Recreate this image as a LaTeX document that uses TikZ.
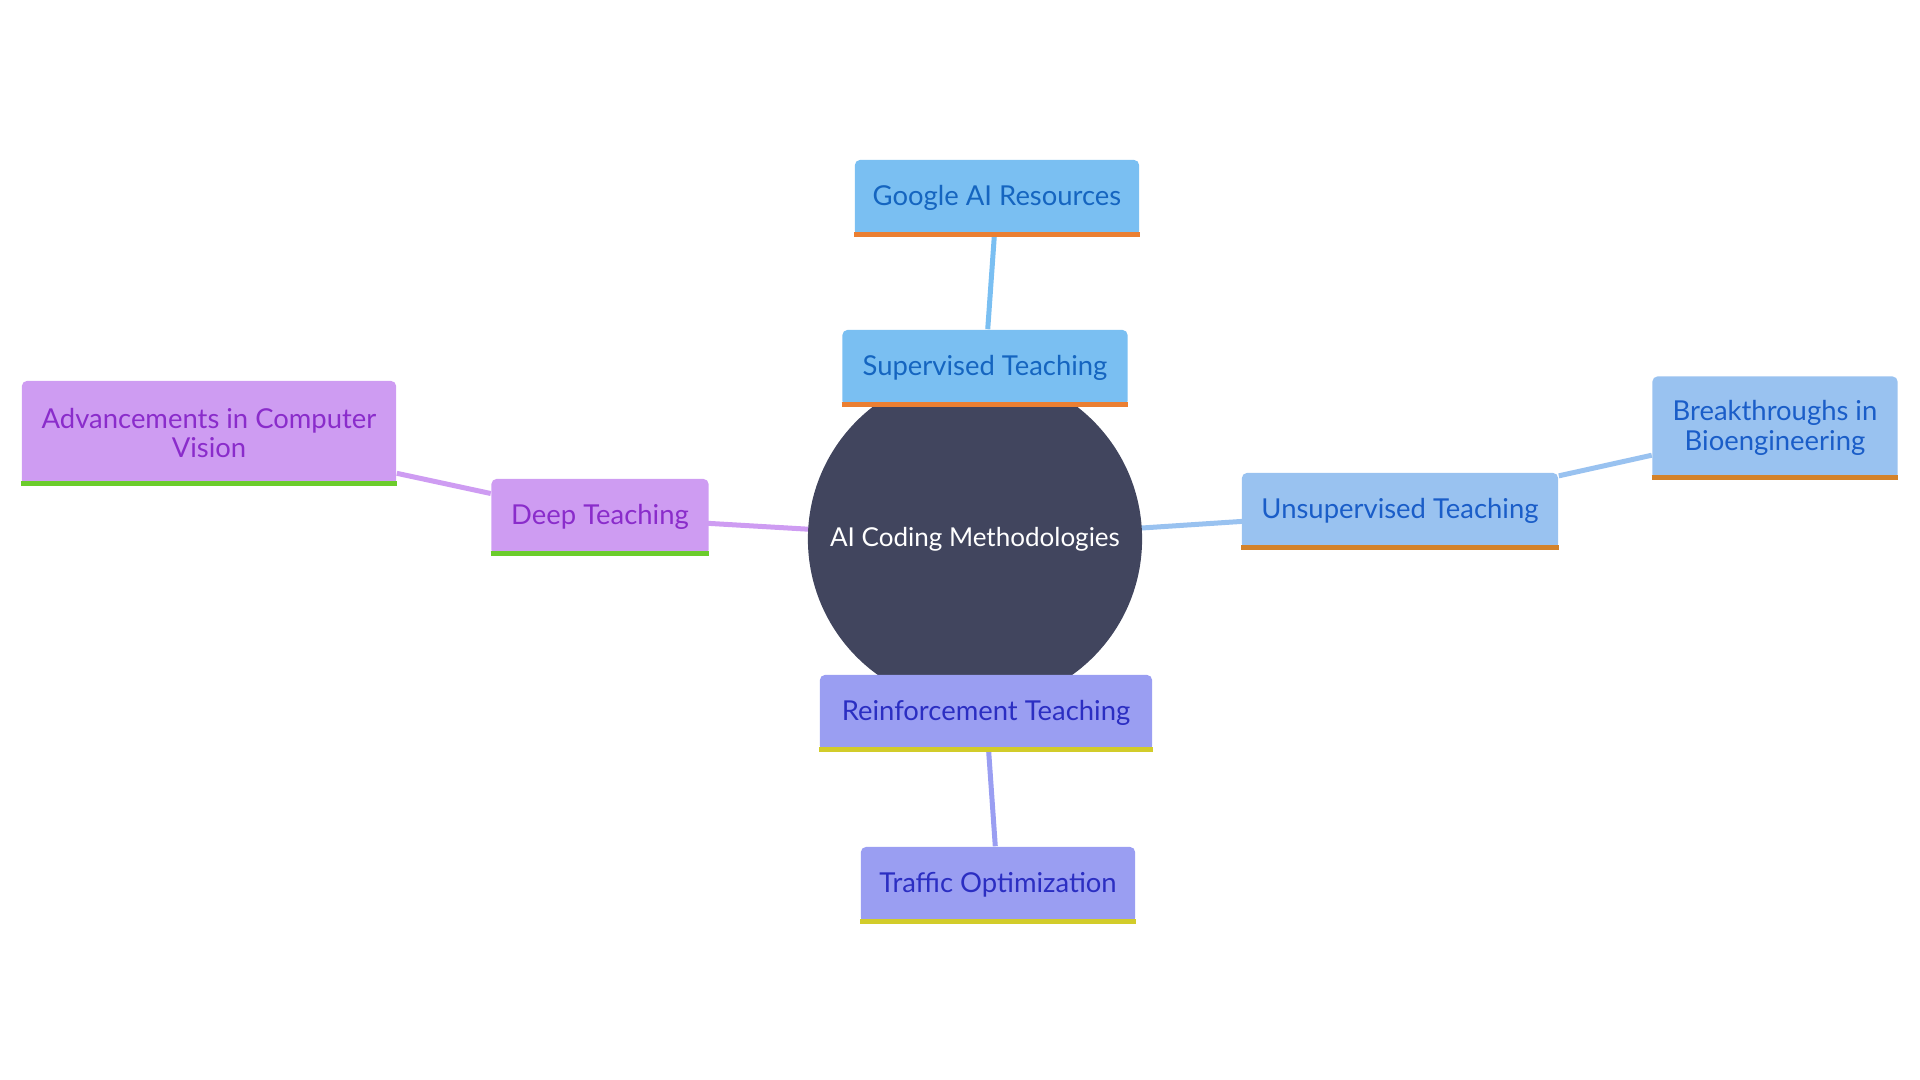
\documentclass[tikz,border=0pt]{standalone}
\usepackage{fontspec}
\setmainfont{Lato}
\usepackage{xcolor}
\usetikzlibrary{positioning,calc,backgrounds}
\definecolor{rootcol}{HTML}{41455E}
\definecolor{supcol}{HTML}{7ABFF2}
\definecolor{supcoldark}{HTML}{1565C0}
\definecolor{supcolline}{HTML}{EB7F32}
\definecolor{unscol}{HTML}{99C2F0}
\definecolor{unscoldark}{HTML}{1A5DC8}
\definecolor{unscolline}{HTML}{D4822A}
\definecolor{deepcol}{HTML}{CE9CF2}
\definecolor{deepcoldark}{HTML}{8A2CCB}
\definecolor{deepcolline}{HTML}{6CCC2C}
\definecolor{reincol}{HTML}{9A9EF2}
\definecolor{reincoldark}{HTML}{2B2EC2}
\definecolor{reincolline}{HTML}{D2CC2A}

\begin{document}
\begin{tikzpicture}[
  x=0.01cm, y=-0.01cm,
  font=\fontsize{7.8}{8.3}\selectfont,
  root/.style={
    circle, fill=rootcol, text=white, minimum size=3.34cm, inner sep=0pt,
    font=\fontsize{7.4}{8.4}\selectfont,
  },
  leaf/.style={
    rounded corners=0.05cm, minimum height=0.76cm, inner sep=0pt, align=center,
  },
  sup/.style={leaf, fill=supcol, text=supcoldark},
  uns/.style={leaf, fill=unscol, text=unscoldark},
  deep/.style={leaf, fill=deepcol, text=deepcoldark},
  rein/.style={leaf, fill=reincol, text=reincoldark},
  branch/.style={line width=0.05cm},
  stripe/.style={line width=0.05cm}
]
\useasboundingbox (0,0) rectangle (1920,1080);

% Centre
\node[root] (root) at (975,539) {AI Coding Methodologies};

% Supervised branch (top)
\node[sup, minimum width=2.85cm] (supervised) at (985,368) {Supervised Teaching};
\node[sup, minimum width=2.84cm] (google) at (997,198) {Google AI Resources};

% Unsupervised branch (right)
\node[uns, minimum width=3.16cm] (unsupervised) at (1400,511) {Unsupervised Teaching};
\node[uns, minimum width=2.45cm, minimum height=1.03cm] (bioeng) at (1775,428) {Breakthroughs in\\Bioengineering};

% Deep branch (left)
\node[deep, minimum width=2.17cm] (deep) at (600,517) {Deep Teaching};
\node[deep, minimum width=3.74cm, minimum height=1.04cm] (vision) at (209,433) {Advancements in Computer\\Vision};

% Reinforcement branch (bottom)
\node[rein, minimum width=3.32cm] (reinforce) at (986,713) {Reinforcement Teaching};
\node[rein, minimum width=2.74cm] (traffic) at (998,885) {Traffic Optimization};

% Bottom stripes
\foreach \n/\c in {supervised/supcolline, google/supcolline,
                   unsupervised/unscolline, bioeng/unscolline,
                   deep/deepcolline, vision/deepcolline,
                   reinforce/reincolline, traffic/reincolline}
  \draw[stripe, draw=\c] ($(\n.south west)+(0,-2.5)$) -- ($(\n.south east)+(0,-2.5)$);

% Branches behind the nodes
\begin{scope}[on background layer]
\draw[branch, supcol] (root.center) -- (supervised.center);
\draw[branch, supcol] (supervised) -- (google);
\draw[branch, unscol] (root.center) -- (unsupervised.center);
\draw[branch, unscol] (unsupervised) -- (bioeng);
\draw[branch, deepcol] (root.center) -- (deep.center);
\draw[branch, deepcol] (deep) -- (vision);
\draw[branch, reincol] (root.center) -- (reinforce.center);
\draw[branch, reincol] (reinforce) -- (traffic);
\end{scope}

\end{tikzpicture}
\end{document}
